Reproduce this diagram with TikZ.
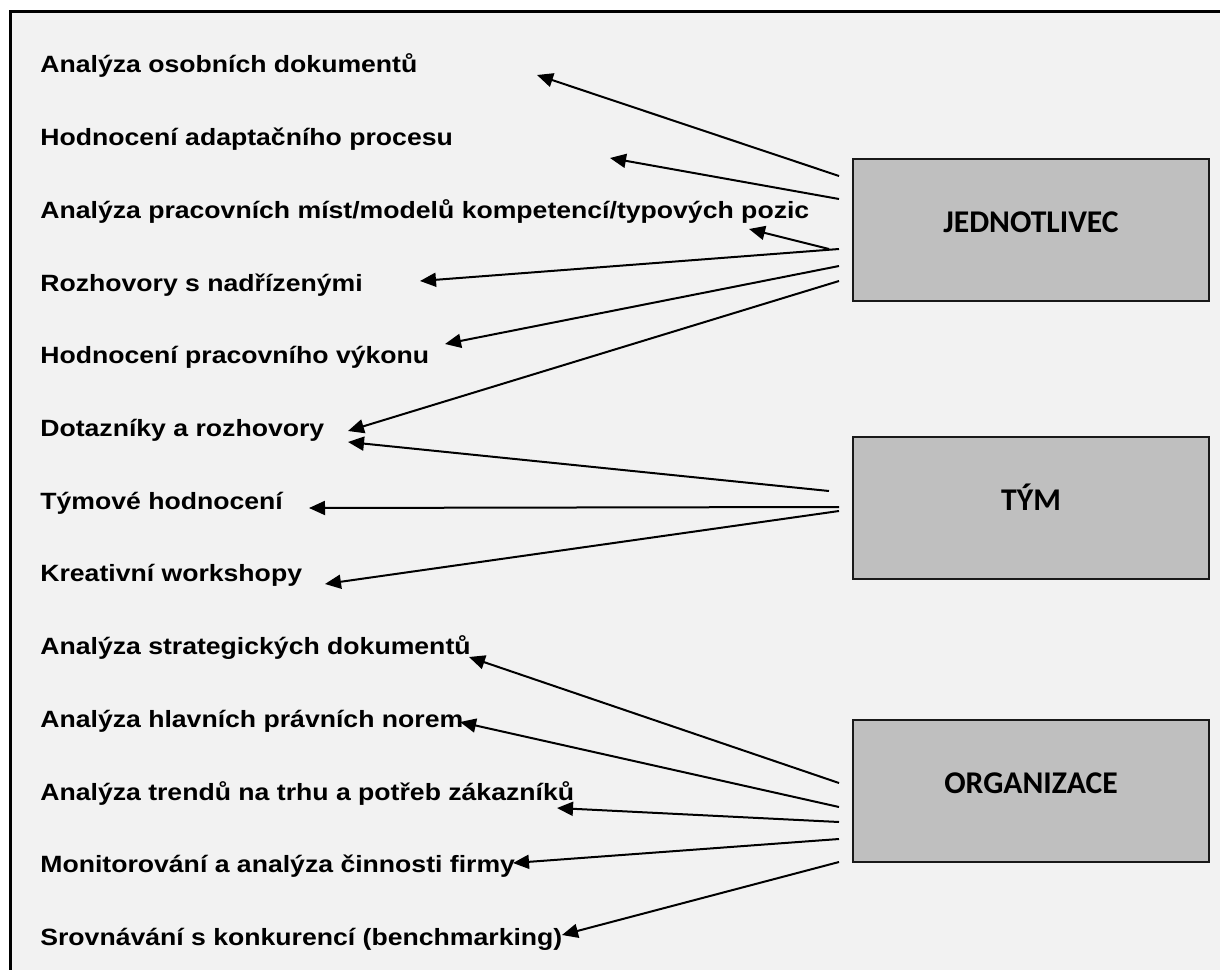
\documentclass[tikz,border=0pt]{standalone}
\usepackage{fontspec}
\setmainfont{Liberation Sans}
\newfontfamily\itemfont{Liberation Sans}[FakeStretch=1.13]
\newfontfamily\boxfont{Carlito}
\usetikzlibrary{arrows.meta}
\definecolor{pagebg}{HTML}{F2F2F2}
\definecolor{boxgray}{HTML}{BFBFBF}

\begin{document}
\begin{tikzpicture}[x=0.2mm,y=-0.2mm,>={Triangle[length=3.2mm,width=2.8mm]},
 item/.style={anchor=base west,inner sep=0pt,font=\itemfont\bfseries\fontsize{13.4}{16}\selectfont},
 level/.style={draw=black!90,line width=0.4mm,fill=boxgray,minimum width=71.2mm,minimum height=28.4mm,
   text height=0.9mm,text depth=0pt,font=\boxfont\bfseries\fontsize{18}{20}\selectfont},
 link/.style={->,line width=0.4mm}]
\clip (0,0) rectangle (1220,970);
\fill[white] (0,0) rectangle (1220,970);
\draw[line width=0.6mm,fill=pagebg] (10,12) rectangle (1240,990);
% levels
\node[level] (ind) at (1031,230) {JEDNOTLIVEC};
\node[level] (team) at (1031,508) {TÝM};
\node[level] (org) at (1031,791) {ORGANIZACE};
% methods
\foreach \t [count=\i] in {Analýza osobních dokumentů,Hodnocení adaptačního procesu,
 Analýza pracovních míst/modelů kompetencí/typových pozic,Rozhovory s nadřízenými,
 Hodnocení pracovního výkonu,Dotazníky a rozhovory,Týmové hodnocení,Kreativní workshopy,
 Analýza strategických dokumentů,Analýza hlavních právních norem,
 Analýza trendů na trhu a potřeb zákazníků,Monitorování a analýza činnosti firmy,
 Srovnávání s konkurencí (benchmarking)}
 \node[item] (m\i) at (40,{73+72.7*(\i-1)}) {\t};
% arrows
\foreach \n/\xa/\ya/\xb/\yb in {1/839/176/537/75,2/839/199/610/158,3/829/249/749/229,
 4/839/249/420/281,5/839/266/445/344,6/839/281/348/431,
 7/829/491/348/442,8/839/507/309/508,9/839/511/325/584,
 10/839/783/469/657,11/839/807/460/722,12/839/822/557/808,13/839/839/513/863,14/839/862/562/935}
 {\coordinate (s\n) at (\xa,\ya); \coordinate (e\n) at (\xb,\yb); \draw[link] (s\n) -- (e\n);}
\end{tikzpicture}
\end{document}
